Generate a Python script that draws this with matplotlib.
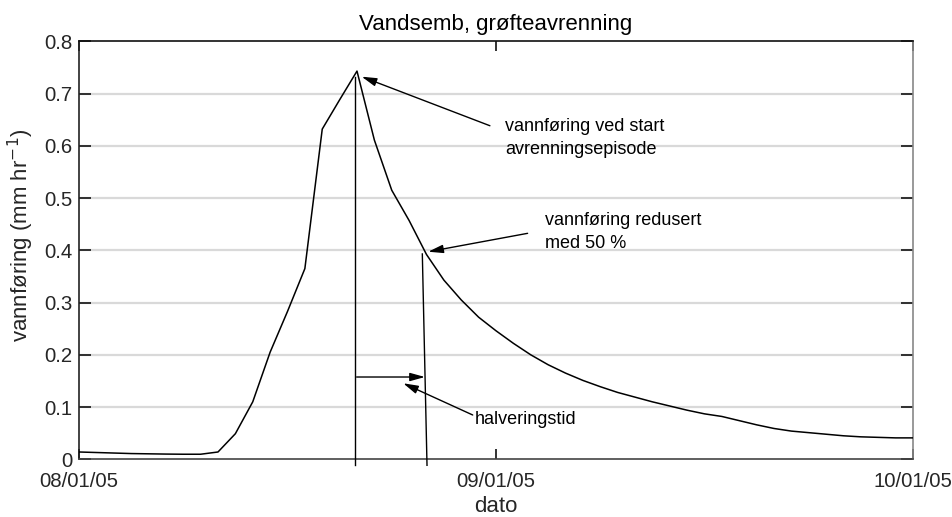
import matplotlib
matplotlib.use("Agg")
import matplotlib.pyplot as plt
from matplotlib.lines import Line2D

plt.rcParams['font.family'] = ['Liberation Sans', 'DejaVu Sans']

# ---- data (hours since 08/01/05 00:00) ----
hours = list(range(0, 49))
flow = [0.014, 0.013, 0.012, 0.011, 0.0105, 0.010, 0.0097, 0.0097, 0.014,
        0.049, 0.110, 0.205, 0.283, 0.365, 0.632, 0.688, 0.743,
        0.611, 0.515, 0.457, 0.392, 0.343, 0.305, 0.272, 0.246,
        0.222, 0.200, 0.181, 0.165, 0.151, 0.139, 0.128, 0.119,
        0.110, 0.102, 0.094, 0.087, 0.082, 0.074, 0.066, 0.059,
        0.054, 0.051, 0.048, 0.045, 0.043, 0.042, 0.041, 0.041]

tick_hours = [0, 24, 48]
tick_labels = ['08/01/05', '09/01/05', '10/01/05']
yticks = [0, 0.1, 0.2, 0.3, 0.4, 0.5, 0.6, 0.7, 0.8]
ytick_labels = ['0', '0.1', '0.2', '0.3', '0.4', '0.5', '0.6', '0.7', '0.8']

# annotation geometry (data units)
peak_line_x = [15.88, 15.88]
peak_line_y = [0.732, -0.0115]
half_line_x = [19.76, 20.03]
half_line_y = [0.393, -0.0115]
half_arrow_start = (15.98, 0.1575)
half_arrow_end = (19.91, 0.1575)

annotations = [
    # text, text position, arrow tail, arrow head
    ('vannføring ved start\navrenningsepisode', (24.52, 0.615), (23.65, 0.6384), (16.27, 0.7323)),
    ('vannføring redusert\nmed 50 %', (26.82, 0.435), (25.82, 0.4325), (20.10, 0.3973)),
    ('halveringstid', (22.79, 0.0766), (22.66, 0.0848), (18.66, 0.1455)),
]

fig = plt.figure(figsize=(9.53, 5.17), dpi=100)
ax = fig.add_axes([0.0829, 0.1116, 0.958 - 0.0829, 0.9201 - 0.1116])

ax.set_xlim(0, 48)
ax.set_ylim(0, 0.8)

for yv in yticks[1:-1]:
    ax.axhline(yv, color='#d9d9d9', lw=1.6, zorder=0)

ax.plot(hours, flow, color='black', lw=1.1, zorder=3)

ax.add_line(Line2D(peak_line_x, peak_line_y, color='black', lw=1.0, clip_on=False, zorder=3))
ax.add_line(Line2D(half_line_x, half_line_y, color='black', lw=1.0, clip_on=False, zorder=3))

arrowprops = dict(arrowstyle='-|>,head_length=0.9,head_width=0.25', color='black',
                  lw=1.0, mutation_scale=10, shrinkA=0, shrinkB=0)
ax.annotate('', xy=half_arrow_end, xytext=half_arrow_start, arrowprops=arrowprops)

for txt, tpos, tail, head in annotations:
    ax.annotate('', xy=head, xytext=tail, arrowprops=arrowprops)
    ax.text(tpos[0], tpos[1], txt, fontsize=13, ha='left', va='center',
            linespacing=1.45, color='black')

ax.set_xticks(tick_hours)
ax.set_xticklabels(tick_labels)
ax.set_yticks(yticks)
ax.set_yticklabels(ytick_labels)

ax.tick_params(axis='both', direction='in', labelsize=14.7, colors='#222222',
               labelcolor='#262626', width=1.3)
ax.tick_params(axis='x', length=7, pad=9, top=True)
ax.tick_params(axis='y', length=8.5, pad=5, right=True)

for side, col in [('left', '#222222'), ('bottom', '#444444'), ('top', '#111111'), ('right', '#888888')]:
    ax.spines[side].set_color(col)
    ax.spines[side].set_linewidth(1.2)

ax.set_title('Vandsemb, grøfteavrenning', fontsize=16, pad=8, color='black')
ax.set_xlabel('dato', fontsize=16, color='#262626', labelpad=4)
ax.set_ylabel('vannføring (mm hr$^{-1}$)', fontsize=16, color='#262626')
ax.yaxis.set_label_coords(-0.052, 0.536)

fig.savefig('out.png', dpi=100)
